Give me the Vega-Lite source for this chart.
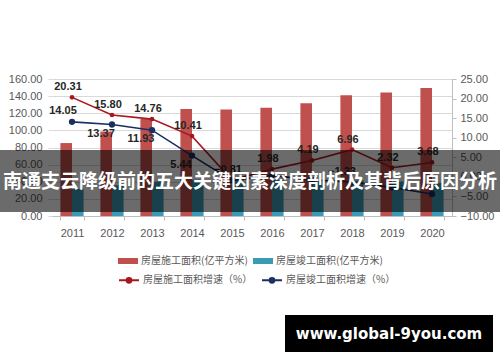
{
  "$schema": "https://vega.github.io/schema/vega-lite/v6.json",
  "width": 400,
  "height": 137,
  "autosize": {"type": "none"},
  "padding": {"left": 52, "top": 79, "right": 48, "bottom": 146},
  "background": "white",
  "config": {
    "view": {"stroke": null},
    "axis": {"labelFont": "Liberation Sans", "labelFontSize": 11, "labelColor": "#595959", "domainColor": "#bfbfbf", "tickColor": "#bfbfbf", "gridColor": "#d9d9d9", "title": null},
    "legend": {"labelFont": "Noto Sans CJK SC", "labelFontSize": 10, "labelColor": "#595959", "padding": 0, "labelOffset": 3}
  },
  "datasets": {
    "area": [
      {"year": "2011", "series": "房屋施工面积(亿平方米)", "value": 85.18},
      {"year": "2012", "series": "房屋施工面积(亿平方米)", "value": 98.64},
      {"year": "2013", "series": "房屋施工面积(亿平方米)", "value": 113.2},
      {"year": "2014", "series": "房屋施工面积(亿平方米)", "value": 124.98},
      {"year": "2015", "series": "房屋施工面积(亿平方米)", "value": 124.26},
      {"year": "2016", "series": "房屋施工面积(亿平方米)", "value": 126.42},
      {"year": "2017", "series": "房屋施工面积(亿平方米)", "value": 131.72},
      {"year": "2018", "series": "房屋施工面积(亿平方米)", "value": 140.89},
      {"year": "2019", "series": "房屋施工面积(亿平方米)", "value": 144.16},
      {"year": "2020", "series": "房屋施工面积(亿平方米)", "value": 149.47},
      {"year": "2011", "series": "房屋竣工面积(亿平方米)", "value": 31.69},
      {"year": "2012", "series": "房屋竣工面积(亿平方米)", "value": 35.87},
      {"year": "2013", "series": "房屋竣工面积(亿平方米)", "value": 40.16},
      {"year": "2014", "series": "房屋竣工面积(亿平方米)", "value": 42.35},
      {"year": "2015", "series": "房屋竣工面积(亿平方米)", "value": 42.08},
      {"year": "2016", "series": "房屋竣工面积(亿平方米)", "value": 42.24},
      {"year": "2017", "series": "房屋竣工面积(亿平方米)", "value": 41.91},
      {"year": "2018", "series": "房屋竣工面积(亿平方米)", "value": 41.35},
      {"year": "2019", "series": "房屋竣工面积(亿平方米)", "value": 40.24},
      {"year": "2020", "series": "房屋竣工面积(亿平方米)", "value": 38.48}
    ],
    "growth": [
      {"year": "2011", "series": "房屋施工面积增速（%）", "value": 20.31},
      {"year": "2012", "series": "房屋施工面积增速（%）", "value": 15.80},
      {"year": "2013", "series": "房屋施工面积增速（%）", "value": 14.76},
      {"year": "2014", "series": "房屋施工面积增速（%）", "value": 10.41},
      {"year": "2015", "series": "房屋施工面积增速（%）", "value": -0.81},
      {"year": "2016", "series": "房屋施工面积增速（%）", "value": 1.98},
      {"year": "2017", "series": "房屋施工面积增速（%）", "value": 4.19},
      {"year": "2018", "series": "房屋施工面积增速（%）", "value": 6.96},
      {"year": "2019", "series": "房屋施工面积增速（%）", "value": 2.32},
      {"year": "2020", "series": "房屋施工面积增速（%）", "value": 3.68},
      {"year": "2011", "series": "房屋竣工面积增速（%）", "value": 14.05},
      {"year": "2012", "series": "房屋竣工面积增速（%）", "value": 13.37},
      {"year": "2013", "series": "房屋竣工面积增速（%）", "value": 11.93},
      {"year": "2014", "series": "房屋竣工面积增速（%）", "value": 5.44},
      {"year": "2015", "series": "房屋竣工面积增速（%）", "value": -0.91},
      {"year": "2016", "series": "房屋竣工面积增速（%）", "value": 0.38},
      {"year": "2017", "series": "房屋竣工面积增速（%）", "value": -0.78},
      {"year": "2018", "series": "房屋竣工面积增速（%）", "value": -1.33},
      {"year": "2019", "series": "房屋竣工面积增速（%）", "value": -2.68},
      {"year": "2020", "series": "房屋竣工面积增速（%）", "value": -4.38}
    ]
  },
  "layer": [
    {
      "layer": [
        {
          "data": {"name": "area"},
          "mark": {"type": "bar"},
          "encoding": {
            "x": {"field": "year", "type": "ordinal", "scale": {"paddingInner": 0.42, "paddingOuter": 0.21},
                  "axis": {"labelAngle": 0, "domain": true, "ticks": true, "tickBand": "extent", "tickSize": 4, "labelPadding": 7, "grid": false}},
            "xOffset": {"field": "series", "type": "nominal", "sort": ["房屋施工面积(亿平方米)", "房屋竣工面积(亿平方米)"]},
            "y": {"field": "value", "type": "quantitative", "scale": {"domain": [0, 160], "nice": false},
                  "axis": {"orient": "left", "values": [0, 20, 40, 60, 80, 100, 120, 140, 160], "format": ".2f", "grid": true, "domain": false, "ticks": true, "tickSize": 4, "tickColor": "#d9d9d9", "labelPadding": 6, "labelOverlap": false}},
            "fill": {"field": "series", "type": "nominal",
                     "scale": {"domain": ["房屋施工面积(亿平方米)", "房屋竣工面积(亿平方米)"], "range": ["#c0504d", "#3a9bb5"]},
                     "legend": {"orient": "none", "legendX": 66, "legendY": 172, "direction": "horizontal", "title": null, "symbolType": "M-1,-0.3H1V0.3H-1Z", "symbolSize": 400, "symbolStrokeWidth": 0, "columnPadding": 5}}
          }
        },
        {
          "data": {"name": "growth"},
          "encoding": {
            "x": {"field": "year", "type": "ordinal"},
            "y": {"field": "value", "type": "quantitative", "scale": {"domain": [-10, 25], "nice": false},
                  "axis": {"orient": "right", "values": [-10, -5, 0, 5, 10, 15, 20, 25], "format": ".2f", "grid": false, "domain": true, "ticks": true, "tickSize": 4, "labelPadding": 4, "labelOverlap": false, "labelFlush": false}}
          },
          "layer": [
            {
              "mark": {"type": "line", "strokeWidth": 1.6},
              "encoding": {
                "stroke": {"field": "series", "type": "nominal",
                           "scale": {"domain": ["房屋施工面积增速（%）", "房屋竣工面积增速（%）"], "range": ["#a8171f", "#1c2f63"]},
                           "legend": {"orient": "none", "legendX": 66, "legendY": 190, "direction": "horizontal", "title": null, "symbolType": "M-1,0H1M0.24,0A0.24,0.24 0 1,1 -0.24,0A0.24,0.24 0 1,1 0.24,0M0.1,0A0.1,0.1 0 1,1 -0.1,0A0.1,0.1 0 1,1 0.1,0", "symbolSize": 400, "symbolStrokeWidth": 2, "symbolFillColor": "transparent", "columnPadding": 5}}
              }
            },
            {
              "transform": [{"filter": "datum.series === '房屋施工面积增速（%）'"}],
              "mark": {"type": "point", "filled": true, "opacity": 1, "size": 22, "color": "#a8171f"}
            },
            {
              "transform": [{"filter": "datum.series === '房屋竣工面积增速（%）'"}],
              "mark": {"type": "point", "filled": true, "opacity": 1, "size": 40, "color": "#1c2f63"}
            },
            {
              "transform": [{"filter": "datum.series === '房屋施工面积增速（%）'"}],
              "mark": {"type": "text", "font": "Liberation Sans", "fontSize": 11, "fontWeight": "bold", "color": "#262626", "dx": -4, "dy": -10, "baseline": "middle"},
              "encoding": {"text": {"field": "value", "type": "quantitative", "format": ".2f"}}
            },
            {
              "transform": [{"filter": "datum.series === '房屋竣工面积增速（%）' && datum.year === '2011'"}],
              "mark": {"type": "text", "font": "Liberation Sans", "fontSize": 11, "fontWeight": "bold", "color": "#262626", "dx": -9, "dy": -11, "baseline": "middle"},
              "encoding": {"text": {"field": "value", "type": "quantitative", "format": ".2f"}}
            },
            {
              "transform": [{"filter": "datum.series === '房屋竣工面积增速（%）' && (datum.year === '2012' || datum.year === '2013' || datum.year === '2014')"}],
              "mark": {"type": "text", "font": "Liberation Sans", "fontSize": 11, "fontWeight": "bold", "color": "#262626", "dx": -11, "dy": 9, "baseline": "middle"},
              "encoding": {"text": {"field": "value", "type": "quantitative", "format": ".2f"}}
            },
            {
              "transform": [{"filter": "datum.series === '房屋竣工面积增速（%）' && datum.year === '2018'"}],
              "mark": {"type": "text", "font": "Liberation Sans", "fontSize": 11, "fontWeight": "bold", "color": "#262626", "dx": -10, "dy": -10, "baseline": "middle"},
              "encoding": {"text": {"field": "value", "type": "quantitative", "format": ".2f"}}
            }
          ]
        }
      ],
      "resolve": {"scale": {"y": "independent"}}
    },
    {
      "data": {"values": [{}]},
      "layer": [
        {
          "mark": {"type": "rect", "color": "black", "opacity": 0.58, "clip": false},
          "encoding": {
            "x": {"datum": -0.13, "type": "quantitative", "scale": {"domain": [0, 1], "nice": false, "zero": false}, "axis": null},
            "x2": {"datum": 1.12},
            "y": {"datum": 0.029, "type": "quantitative", "scale": {"domain": [0, 1], "nice": false, "zero": false}, "axis": null},
            "y2": {"datum": 0.482}
          }
        },
        {
          "mark": {"type": "text", "font": "Noto Sans CJK SC", "fontSize": 19, "fontWeight": "bold", "color": "white", "align": "center", "baseline": "middle", "clip": false},
          "encoding": {
            "x": {"datum": 0.495, "type": "quantitative"},
            "y": {"datum": 0.245, "type": "quantitative"},
            "text": {"value": "南通支云降级前的五大关键因素深度剖析及其背后原因分析"}
          }
        },
        {
          "mark": {"type": "rect", "color": "black", "opacity": 1, "clip": false},
          "encoding": {
            "x": {"datum": 0.5825, "type": "quantitative"},
            "x2": {"datum": 1.1025},
            "y": {"datum": -0.993, "type": "quantitative"},
            "y2": {"datum": -0.723}
          }
        },
        {
          "mark": {"type": "text", "font": "DejaVu Sans", "fontSize": 15, "fontWeight": "bold", "color": "white", "align": "center", "baseline": "middle", "clip": false},
          "encoding": {
            "x": {"datum": 0.8425, "type": "quantitative"},
            "y": {"datum": -0.861, "type": "quantitative"},
            "text": {"value": "www.global-9you.com"}
          }
        }
      ]
    }
  ],
  "resolve": {"scale": {"x": "independent", "y": "independent"}}
}
